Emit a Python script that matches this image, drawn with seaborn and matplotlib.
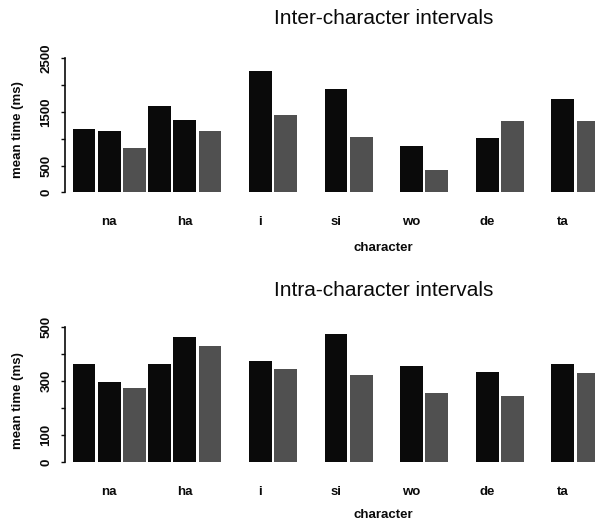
import numpy as np
import pandas as pd
import matplotlib
matplotlib.use("Agg")
import matplotlib.pyplot as plt
import seaborn as sns

# Mean interval durations (ms) per character.
# Characters with only two intervals have no value in the first slot.
characters = ["na", "ha", "i", "si", "wo", "de", "ta"]
slots = ["first", "second", "final"]

inter_first = [1175, 1610, np.nan, np.nan, np.nan, np.nan, np.nan]
inter_second = [1138, 1349, 2263, 1922, 864, 1007, 1735]
inter_final = [821, 1144, 1437, 1037, 410, 1336, 1330]

intra_first = [363, 364, np.nan, np.nan, np.nan, np.nan, np.nan]
intra_second = [299, 465, 375, 474, 356, 334, 363]
intra_final = [276, 431, 346, 325, 256, 244, 331]

inter_ticks = [0, 500, 1000, 1500, 2000, 2500]
inter_ticklabels = ["0", "500", "", "1500", "", "2500"]
intra_ticks = [0, 100, 200, 300, 400, 500]
intra_ticklabels = ["0", "100", "", "300", "", "500"]


def long_table(first, second, final):
    rows = []
    for name, vals in zip(slots, [first, second, final]):
        for ch, v in zip(characters, vals):
            rows.append({"character": ch, "slot": name, "time": v})
    return pd.DataFrame(rows)


sns.set_theme(style="white")
plt.rcParams["font.family"] = ["Liberation Sans", "DejaVu Sans"]

W, H = 595, 520
fig = plt.figure(figsize=(W / 100, H / 100), dpi=100)

ink = "#0a0a0a"
palette = {"first": ink, "second": ink, "final": "#505050"}

panels = [
    ("Inter-character intervals", inter_first, inter_second, inter_final,
     inter_ticks, inter_ticklabels, 58.3, 192.3, 19, 0.469, -0.372),
    ("Intra-character intervals", intra_first, intra_second, intra_final,
     intra_ticks, intra_ticklabels, 327.3, 462.3, 290, 0.461, -0.345),
]

x_left_px = 65
units_px = 75.6
xmin = -0.585
xmax = xmin + (W - x_left_px) / units_px
title_cx = 383.5
fs = 9.5

for (title, f, s, fin, ticks, tlabels, top_px, bot_px, title_y,
     ylab_y, xlab_y) in panels:
    ax = fig.add_axes([x_left_px / W, 1 - bot_px / H,
                       (W - x_left_px) / W, (bot_px - top_px) / H])
    df = long_table(f, s, fin)
    sns.barplot(data=df, x="character", y="time", hue="slot",
                order=characters, hue_order=slots, palette=palette,
                width=1.0, gap=0.1, linewidth=0, saturation=1,
                legend=False, errorbar=None, ax=ax)
    ax.set_xlim(xmin, xmax)
    ax.set_ylim(0, ticks[-1])
    ax.set_yticks(ticks)
    ax.set_yticklabels(tlabels, rotation=90, va="center",
                       fontsize=fs, fontweight="bold", color=ink)
    ax.tick_params(axis="y", direction="out", length=3, width=1,
                   pad=6, colors=ink, left=True)
    ax.tick_params(axis="x", length=0, pad=17, colors=ink)
    for lab in ax.get_xticklabels():
        lab.set_fontsize(fs)
        lab.set_fontweight("bold")
    for sp in ["top", "right", "bottom"]:
        ax.spines[sp].set_visible(False)
    ax.spines["left"].set_bounds(0, ticks[-1])
    ax.spines["left"].set_linewidth(1.2)
    ax.spines["left"].set_color(ink)
    ax.set_ylabel("mean time (ms)", fontsize=fs, fontweight="bold", color=ink)
    ax.yaxis.set_label_coords(-0.078, ylab_y)
    ax.set_xlabel("character", fontsize=fs, fontweight="bold", color=ink)
    ax.xaxis.set_label_coords((title_cx - x_left_px) / (W - x_left_px), xlab_y)
    ax.patch.set_alpha(0)
    fig.text(title_cx / W, 1 - title_y / H, title, ha="center", va="center",
             fontsize=15, color=ink)

fig.savefig("out.png", dpi=100, facecolor="white")
